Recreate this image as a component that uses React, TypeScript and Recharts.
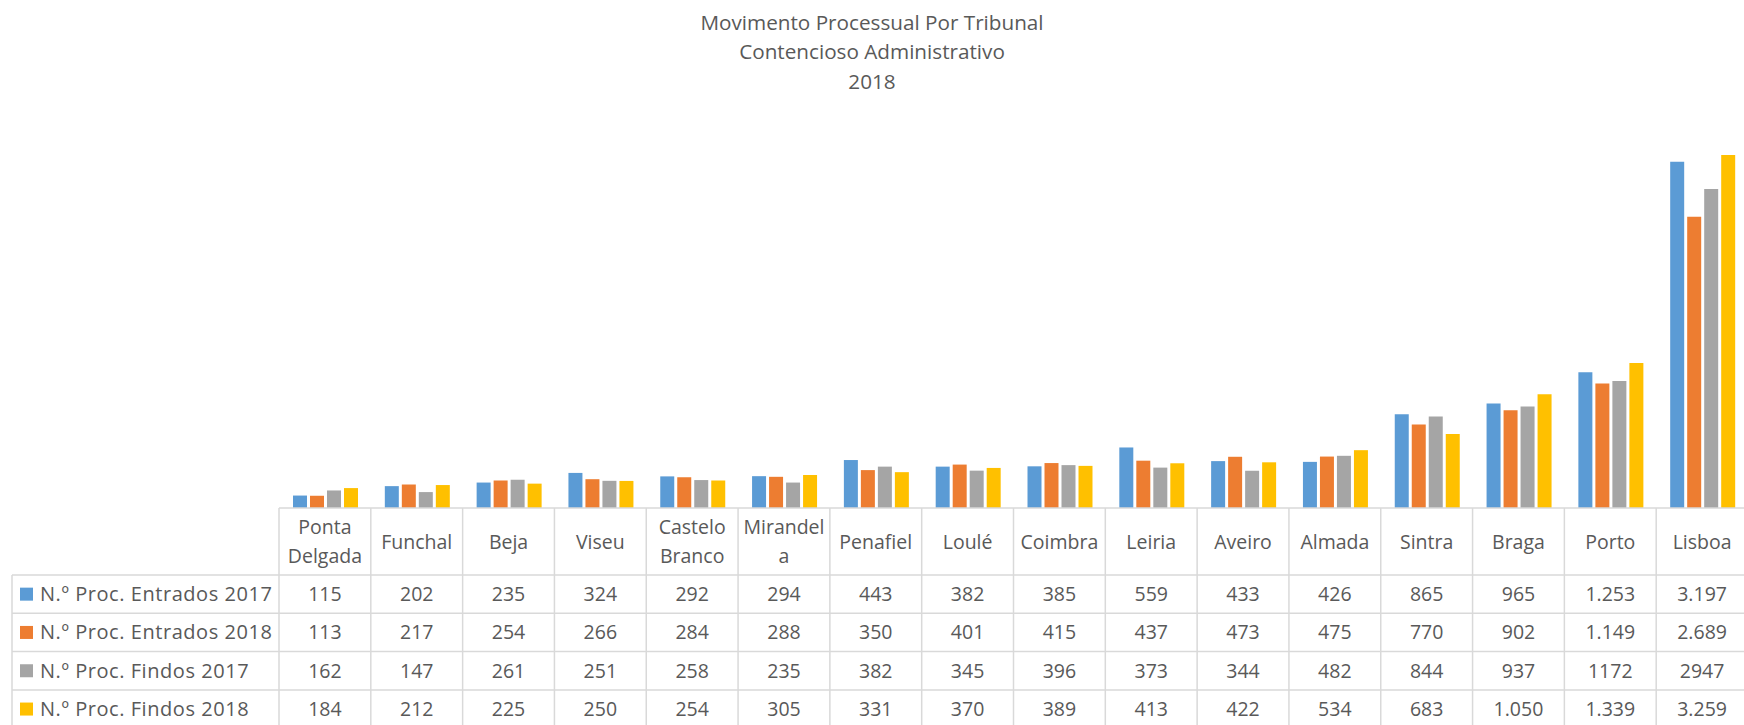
import React from 'react';
import { BarChart, Bar, XAxis, YAxis } from 'recharts';

const categories = ['Ponta Delgada', 'Funchal', 'Beja', 'Viseu', 'Castelo Branco', 'Mirandela', 'Penafiel', 'Loulé', 'Coimbra', 'Leiria', 'Aveiro', 'Almada', 'Sintra', 'Braga', 'Porto', 'Lisboa'];
const categoryLabelLines = [['Ponta', 'Delgada'], ['Funchal'], ['Beja'], ['Viseu'], ['Castelo', 'Branco'], ['Mirandel', 'a'], ['Penafiel'], ['Loulé'], ['Coimbra'], ['Leiria'], ['Aveiro'], ['Almada'], ['Sintra'], ['Braga'], ['Porto'], ['Lisboa']];

const entrados2017 = [115, 202, 235, 324, 292, 294, 443, 382, 385, 559, 433, 426, 865, 965, 1253, 3197];
const entrados2018 = [113, 217, 254, 266, 284, 288, 350, 401, 415, 437, 473, 475, 770, 902, 1149, 2689];
const findos2017 = [162, 147, 261, 251, 258, 235, 382, 345, 396, 373, 344, 482, 844, 937, 1172, 2947];
const findos2018 = [184, 212, 225, 250, 254, 305, 331, 370, 389, 413, 422, 534, 683, 1050, 1339, 3259];

const seriesKeys = ['e17', 'e18', 'f17', 'f18'];
const seriesNames = ['N.º Proc. Entrados 2017', 'N.º Proc. Entrados 2018', 'N.º Proc. Findos 2017', 'N.º Proc. Findos 2018'];
const seriesColors = ['#5B9BD5', '#ED7D31', '#A5A5A5', '#FFC000'];
const seriesThousandsSep = [true, true, false, true];
const seriesValues = [entrados2017, entrados2018, findos2017, findos2018];

const titleLines = ['Movimento Processual Por Tribunal', 'Contencioso Administrativo', '2018'];

const data = categories.map((name, i) => {
  const row: any = { name, idx: i };
  seriesKeys.forEach((k, s) => { row[k] = seriesValues[s][i]; });
  return row;
});

const CHART_W = 1752;
const CHART_H = 732;
const M_LEFT = 279;
const M_RIGHT = 4;
const COL_W = (CHART_W - M_LEFT - M_RIGHT) / categories.length;
const GRID = '#D9D9D9';
const TEXT = '#595959';
const FONT = '"Open Sans", Lato, sans-serif';
const FS = 19.5;
const HEADER_H = 67;
const ROW_H = 38.3;

const fmt = (n: number, sep: boolean) => {
  if (!sep || n < 1000) return String(n);
  return `${Math.floor(n / 1000)}.${String(n % 1000).padStart(3, '0')}`;
};

const TableTick = (props: any) => {
  const { x, y, payload } = props;
  const idx = payload.index;
  const lines = categoryLabelLines[idx];
  const left = x - COL_W / 2;
  const right = x + COL_W / 2;
  const headerCenter = y + HEADER_H / 2;
  return (
    <g>
      <line x1={left} x2={left} y1={y} y2={CHART_H} stroke={GRID} strokeWidth={1.5} />
      {idx === categories.length - 1 && (
        <line x1={right} x2={right} y1={y} y2={CHART_H} stroke={GRID} strokeWidth={1.5} />
      )}
      {lines.map((ln, li) => {
        const cy = lines.length === 1 ? headerCenter : headerCenter + (li - 0.5) * 29;
        return (
          <text key={li} x={x} y={cy + 7} textAnchor="middle" fill={TEXT} fontSize={FS} fontFamily={FONT}>{ln}</text>
        );
      })}
      {seriesValues.map((vals, s) => (
        <text key={s} x={x} y={y + HEADER_H + ROW_H * s + ROW_H / 2 + 7} textAnchor="middle" fill={TEXT} fontSize={FS} fontFamily={FONT}>
          {fmt(vals[idx], seriesThousandsSep[s])}
        </text>
      ))}
    </g>
  );
};

export default function App() {
  const plotBottom = 508;
  const rowTop = plotBottom + HEADER_H;
  return (
    <div style={{ position: 'absolute', left: 0, top: 0, width: 1744, height: 725, overflow: 'hidden', background: '#fff' }}>
      <BarChart
        width={CHART_W}
        height={CHART_H}
        data={data}
        margin={{ top: 129, right: M_RIGHT, left: M_LEFT, bottom: 0 }}
        barCategoryGap={14}
        barGap={3}
      >
        <YAxis hide domain={[0, 3500]} />
        <XAxis
          dataKey="name"
          height={CHART_H - plotBottom}
          interval={0}
          tickLine={false}
          tickSize={0}
          tickMargin={0}
          axisLine={{ stroke: GRID, strokeWidth: 1.5 }}
          tick={<TableTick />}
        />
        {seriesKeys.map((k, s) => (
          <Bar key={k} dataKey={k} name={seriesNames[s]} fill={seriesColors[s]} isAnimationActive={false} />
        ))}
      </BarChart>
      <svg width={1744} height={725} style={{ position: 'absolute', left: 0, top: 0, pointerEvents: 'none' }}>
        {titleLines.map((t, i) => (
          <text key={i} x={872} y={30 + i * 29.3} textAnchor="middle" fill={TEXT} fontSize={20.7} fontFamily={FONT}>{t}</text>
        ))}
        <line x1={12} x2={12} y1={rowTop} y2={725} stroke={GRID} strokeWidth={1.5} />
        {[0, 1, 2, 3, 4].map((r) => (
          <line key={r} x1={12} x2={1744} y1={rowTop + r * ROW_H} y2={rowTop + r * ROW_H} stroke={GRID} strokeWidth={1.5} />
        ))}
        {seriesNames.map((nm, s) => {
          const cy = rowTop + ROW_H * s + ROW_H / 2;
          return (
            <g key={s}>
              <rect x={20} y={cy - 6.5} width={13} height={13} fill={seriesColors[s]} />
              <text x={40} y={cy + 7} fill={TEXT} fontSize={20} fontFamily={FONT} letterSpacing={0.55}>{nm}</text>
            </g>
          );
        })}
      </svg>
    </div>
  );
}
